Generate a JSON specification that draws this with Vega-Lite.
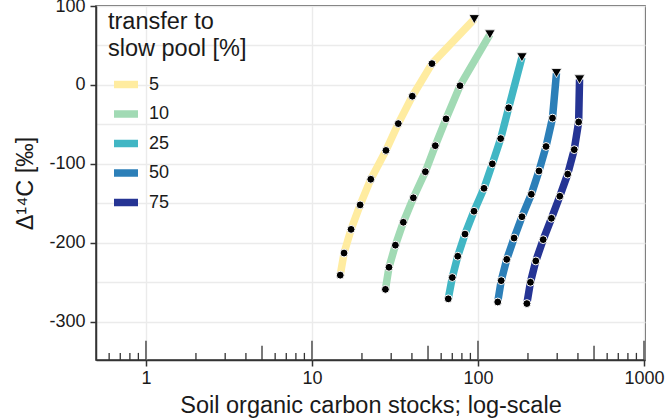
{
  "$schema": "https://vega.github.io/schema/vega-lite/v6.json",
  "width": 549,
  "height": 354,
  "autosize": {"type": "none"},
  "padding": {"left": 96, "top": 6, "right": 24, "bottom": 58},
  "background": "white",
  "config": {
    "font": "Liberation Sans",
    "view": {"stroke": "#333333", "strokeWidth": 1.5},
    "axis": {
      "domainColor": "#333333",
      "domainWidth": 1.5,
      "tickColor": "#333333",
      "tickWidth": 1.5,
      "tickSize": 6,
      "labelFontSize": 18,
      "labelColor": "#1a1a1a",
      "titleFontSize": 23.5,
      "titleFontWeight": "normal",
      "titleColor": "#1a1a1a",
      "gridColor": "#ebebeb",
      "gridWidth": 1.4
    }
  },
  "datasets": {
    "curves": [
      {"pool": "5", "step": 1, "soc": 14.8, "d14c": -241, "marker": "p"},
      {"pool": "5", "step": 2, "soc": 15.6, "d14c": -213, "marker": "p"},
      {"pool": "5", "step": 3, "soc": 17.2, "d14c": -183, "marker": "p"},
      {"pool": "5", "step": 4, "soc": 19.5, "d14c": -152, "marker": "p"},
      {"pool": "5", "step": 5, "soc": 22.6, "d14c": -119.5, "marker": "p"},
      {"pool": "5", "step": 6, "soc": 27.9, "d14c": -83, "marker": "p"},
      {"pool": "5", "step": 7, "soc": 33.1, "d14c": -49, "marker": "p"},
      {"pool": "5", "step": 8, "soc": 40.2, "d14c": -14.3, "marker": "p"},
      {"pool": "5", "step": 9, "soc": 52.8, "d14c": 27, "marker": "p"},
      {"pool": "5", "step": 10, "soc": 95, "d14c": 83.3, "marker": "end"},
      {"pool": "10", "step": 1, "soc": 27.7, "d14c": -259, "marker": "p"},
      {"pool": "10", "step": 2, "soc": 29.1, "d14c": -231, "marker": "p"},
      {"pool": "10", "step": 3, "soc": 31.8, "d14c": -203, "marker": "p"},
      {"pool": "10", "step": 4, "soc": 35.5, "d14c": -174, "marker": "p"},
      {"pool": "10", "step": 5, "soc": 40.8, "d14c": -143, "marker": "p"},
      {"pool": "10", "step": 6, "soc": 48.2, "d14c": -110, "marker": "p"},
      {"pool": "10", "step": 7, "soc": 55.3, "d14c": -77, "marker": "p"},
      {"pool": "10", "step": 8, "soc": 64.2, "d14c": -43, "marker": "p"},
      {"pool": "10", "step": 9, "soc": 77.9, "d14c": -1, "marker": "p"},
      {"pool": "10", "step": 10, "soc": 118, "d14c": 64, "marker": "end"},
      {"pool": "25", "step": 1, "soc": 66.2, "d14c": -271, "marker": "p"},
      {"pool": "25", "step": 2, "soc": 70, "d14c": -244, "marker": "p"},
      {"pool": "25", "step": 3, "soc": 75.5, "d14c": -217, "marker": "p"},
      {"pool": "25", "step": 4, "soc": 83.5, "d14c": -189, "marker": "p"},
      {"pool": "25", "step": 5, "soc": 94.6, "d14c": -160, "marker": "p"},
      {"pool": "25", "step": 6, "soc": 108.7, "d14c": -131, "marker": "p"},
      {"pool": "25", "step": 7, "soc": 122, "d14c": -100, "marker": "p"},
      {"pool": "25", "step": 8, "soc": 137, "d14c": -68, "marker": "p"},
      {"pool": "25", "step": 9, "soc": 153, "d14c": -29, "marker": "p"},
      {"pool": "25", "step": 10, "soc": 184, "d14c": 35, "marker": "end"},
      {"pool": "50", "step": 1, "soc": 131.5, "d14c": -275, "marker": "p"},
      {"pool": "50", "step": 2, "soc": 138, "d14c": -248, "marker": "p"},
      {"pool": "50", "step": 3, "soc": 149, "d14c": -221, "marker": "p"},
      {"pool": "50", "step": 4, "soc": 165, "d14c": -194, "marker": "p"},
      {"pool": "50", "step": 5, "soc": 184, "d14c": -167, "marker": "p"},
      {"pool": "50", "step": 6, "soc": 209.6, "d14c": -138.5, "marker": "p"},
      {"pool": "50", "step": 7, "soc": 233, "d14c": -109, "marker": "p"},
      {"pool": "50", "step": 8, "soc": 257, "d14c": -78, "marker": "p"},
      {"pool": "50", "step": 9, "soc": 281, "d14c": -42, "marker": "p"},
      {"pool": "50", "step": 10, "soc": 297, "d14c": 15, "marker": "end"},
      {"pool": "75", "step": 1, "soc": 197, "d14c": -277, "marker": "p"},
      {"pool": "75", "step": 2, "soc": 207, "d14c": -250, "marker": "p"},
      {"pool": "75", "step": 3, "soc": 223, "d14c": -223, "marker": "p"},
      {"pool": "75", "step": 4, "soc": 247, "d14c": -196, "marker": "p"},
      {"pool": "75", "step": 5, "soc": 277, "d14c": -169, "marker": "p"},
      {"pool": "75", "step": 6, "soc": 311, "d14c": -141, "marker": "p"},
      {"pool": "75", "step": 7, "soc": 347, "d14c": -113, "marker": "p"},
      {"pool": "75", "step": 8, "soc": 380, "d14c": -82, "marker": "p"},
      {"pool": "75", "step": 9, "soc": 404, "d14c": -47, "marker": "p"},
      {"pool": "75", "step": 10, "soc": 409, "d14c": 7, "marker": "end"}
    ],
    "logticks": [
      {"x": 1, "kind": "long"}, {"x": 10, "kind": "long"}, {"x": 100, "kind": "long"}, {"x": 1000, "kind": "long"},
      {"x": 5, "kind": "mid"}, {"x": 50, "kind": "mid"}, {"x": 500, "kind": "mid"},
      {"x": 0.6, "kind": "short"}, {"x": 0.7, "kind": "short"}, {"x": 0.8, "kind": "short"}, {"x": 0.9, "kind": "short"},
      {"x": 2, "kind": "short"}, {"x": 3, "kind": "short"}, {"x": 4, "kind": "short"}, {"x": 6, "kind": "short"},
      {"x": 7, "kind": "short"}, {"x": 8, "kind": "short"}, {"x": 9, "kind": "short"},
      {"x": 20, "kind": "short"}, {"x": 30, "kind": "short"}, {"x": 40, "kind": "short"}, {"x": 60, "kind": "short"},
      {"x": 70, "kind": "short"}, {"x": 80, "kind": "short"}, {"x": 90, "kind": "short"},
      {"x": 200, "kind": "short"}, {"x": 300, "kind": "short"}, {"x": 400, "kind": "short"}, {"x": 600, "kind": "short"},
      {"x": 700, "kind": "short"}, {"x": 800, "kind": "short"}, {"x": 900, "kind": "short"}
    ]
  },
  "layer": [
    {
      "data": {"name": "curves"},
      "mark": {"type": "line", "strokeWidth": 7.5, "strokeCap": "butt", "strokeJoin": "round"},
      "encoding": {
        "x": {
          "field": "soc", "type": "quantitative",
          "scale": {"type": "log", "domain": [0.5, 1014], "nice": false},
          "axis": {
            "values": [1, 10, 100, 1000],
            "format": "d",
            "labelPadding": 3,
            "title": "Soil organic carbon stocks; log-scale",
            "titleBaseline": "alphabetic",
            "titleY": 52
          }
        },
        "y": {
          "field": "d14c", "type": "quantitative",
          "scale": {"domain": [-348.5, 100], "nice": false, "zero": false},
          "axis": {
            "values": [-300, -250, -200, -150, -100, -50, 0, 50, 100],
            "labelExpr": "datum.value % 100 === 0 ? '' + datum.value : ''",
            "tickOpacity": {"condition": {"test": "datum.value % 100 === 0", "value": 1}, "value": 0},
            "labelPadding": 5,
            "title": "Δ¹⁴C [‰]",
            "titleAngle": -90,
            "titleBaseline": "alphabetic",
            "titleX": -64
          }
        },
        "color": {
          "field": "pool", "type": "nominal",
          "scale": {"domain": ["5", "10", "25", "50", "75"], "range": ["#ffeca0", "#a1dab4", "#41b6c4", "#2c7fb8", "#253494"]},
          "legend": {
            "orient": "none",
            "legendX": 12,
            "legendY": 4,
            "title": ["transfer to", "slow pool [%]"],
            "titleFontSize": 23.5,
            "titleFontWeight": "normal",
            "titleColor": "#1a1a1a",
            "titleLineHeight": 27,
            "titlePadding": 15,
            "labelFontSize": 18,
            "labelColor": "#1a1a1a",
            "labelOffset": 14,
            "symbolType": "M-2,-0.625L2,-0.625L2,0.625L-2,0.625Z",
            "symbolStrokeWidth": 0,
            "symbolSize": 144,
            "symbolOffset": 9,
            "rowPadding": 11.5,
            "padding": 0,
            "encode": {"symbols": {"update": {
              "fill": {"scale": "color", "field": "value"},
              "stroke": {"value": "transparent"},
              "strokeWidth": {"value": 0},
              "opacity": {"value": 1}
            }}}
          }
        },
        "order": {"field": "step", "type": "quantitative"}
      }
    },
    {
      "data": {"name": "curves"},
      "transform": [{"filter": "datum.marker === 'p'"}],
      "mark": {"type": "circle", "color": "black", "stroke": "white", "strokeWidth": 1, "size": 62, "opacity": 1},
      "encoding": {
        "x": {"field": "soc", "type": "quantitative"},
        "y": {"field": "d14c", "type": "quantitative"}
      }
    },
    {
      "data": {"name": "curves"},
      "transform": [{"filter": "datum.marker === 'end'"}],
      "mark": {"type": "point", "shape": "triangle-down", "filled": true, "fill": "black", "stroke": "white", "strokeWidth": 0.8, "size": 110, "opacity": 1},
      "encoding": {
        "x": {"field": "soc", "type": "quantitative"},
        "y": {"field": "d14c", "type": "quantitative"}
      }
    },
    {
      "data": {"name": "logticks"},
      "transform": [{"filter": "datum.kind === 'long'"}],
      "mark": {"type": "rule", "color": "#333333", "strokeWidth": 1.3},
      "encoding": {
        "x": {"field": "x", "type": "quantitative"},
        "y": {"datum": -348.5, "type": "quantitative"},
        "y2": {"datum": -324}
      }
    },
    {
      "data": {"name": "logticks"},
      "transform": [{"filter": "datum.kind === 'mid'"}],
      "mark": {"type": "rule", "color": "#333333", "strokeWidth": 1.3},
      "encoding": {
        "x": {"field": "x", "type": "quantitative"},
        "y": {"datum": -348.5, "type": "quantitative"},
        "y2": {"datum": -330.5}
      }
    },
    {
      "data": {"name": "logticks"},
      "transform": [{"filter": "datum.kind === 'short'"}],
      "mark": {"type": "rule", "color": "#333333", "strokeWidth": 1.3},
      "encoding": {
        "x": {"field": "x", "type": "quantitative"},
        "y": {"datum": -348.5, "type": "quantitative"},
        "y2": {"datum": -339.5}
      }
    }
  ]
}
